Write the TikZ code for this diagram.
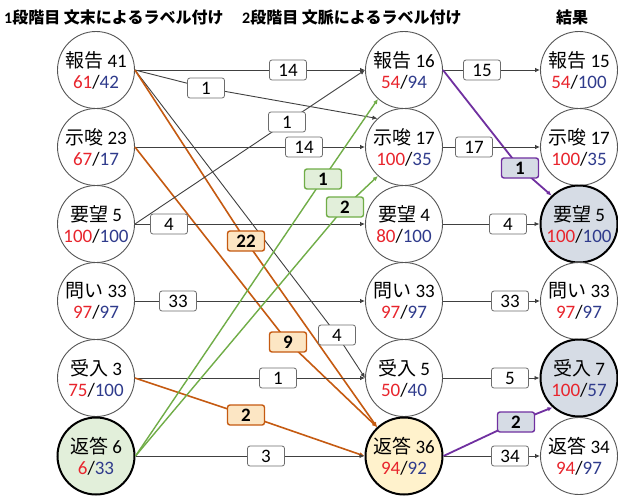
\documentclass[tikz,border=0pt]{standalone}
\usepackage{fontspec}
\setmainfont{Carlito}
\newfontfamily\jp{Noto Sans CJK JP}
\usetikzlibrary{arrows.meta}
\definecolor{rd}{HTML}{E8242C}
\definecolor{bl}{HTML}{2F3B8C}
\definecolor{org}{HTML}{C55A11}
\definecolor{orgfill}{HTML}{FCE6C4}
\definecolor{grn}{HTML}{70AD47}
\definecolor{grnfill}{HTML}{E2EFDA}
\definecolor{pur}{HTML}{7030A0}
\definecolor{purfill}{HTML}{D6DCE5}
\definecolor{yelfill}{HTML}{FFF2CC}
\definecolor{circedge}{HTML}{555555}
\definecolor{ln}{HTML}{404040}
\begin{document}
\begin{tikzpicture}[x=1pt,y=-1pt,
  catnode/.style={circle,draw=circedge,line width=0.9pt,fill=white,minimum size=77pt,inner sep=0pt,align=center,font=\fontsize{19}{21}\selectfont},
  hl/.style={draw=black,line width=2pt},
  lbl/.style={draw=gray!85!black,rounded corners=2.5pt,fill=white,minimum width=37pt,minimum height=20pt,inner sep=0pt,font=\fontsize{19}{19}\selectfont,line width=0.8pt},
  olbl/.style={lbl,draw=org,fill=orgfill,line width=1.4pt,font=\bfseries\fontsize{19}{19}\selectfont},
  glbl/.style={lbl,draw=grn,fill=grnfill,line width=1.4pt,font=\bfseries\fontsize{19}{19}\selectfont},
  plbl/.style={lbl,draw=pur,fill=purfill,line width=1.4pt,font=\bfseries\fontsize{19}{19}\selectfont},
  conn/.style={draw=ln,line width=0.9pt,-{Latex[length=5pt,width=4.5pt]}},
  oconn/.style={conn,draw=org,line width=1.6pt},
  gconn/.style={conn,draw=grn,line width=1.4pt},
  pconn/.style={conn,draw=pur,line width=1.8pt},
  head/.style={font=\bfseries\fontsize{16}{16}\selectfont,inner sep=0pt}
]
\useasboundingbox (0,0) rectangle (618,496);
\fill[white] (0,0) rectangle (618,496);
% headers
\node[head,anchor=west] (h1) at (4,17) {1{\jp 段階目 文末によるラベル付け}};
\node[head,anchor=west] (h2) at (242,17) {2{\jp 段階目 文脈によるラベル付け}};
\node[head] (h3) at (572,17) {{\jp 結果}};
% column 1
\node[catnode] (a1) at (96,70)  {{\jp 報告} 41\\{\color{rd}61}/{\color{bl}42}};
\node[catnode] (a2) at (96,147) {{\jp 示唆} 23\\{\color{rd}67}/{\color{bl}17}};
\node[catnode] (a3) at (96,224) {{\jp 要望} 5\\{\color{rd}100}/{\color{bl}100}};
\node[catnode] (a4) at (96,301) {{\jp 問い} 33\\{\color{rd}97}/{\color{bl}97}};
\node[catnode] (a5) at (96,378) {{\jp 受入} 3\\{\color{rd}75}/{\color{bl}100}};
\node[catnode,hl,fill=grnfill] (a6) at (96,456) {{\jp 返答} 6\\{\color{rd}6}/{\color{bl}33}};
% column 2
\node[catnode] (b1) at (404,70)  {{\jp 報告} 16\\{\color{rd}54}/{\color{bl}94}};
\node[catnode] (b2) at (404,147) {{\jp 示唆} 17\\{\color{rd}100}/{\color{bl}35}};
\node[catnode] (b3) at (404,224) {{\jp 要望} 4\\{\color{rd}80}/{\color{bl}100}};
\node[catnode] (b4) at (404,301) {{\jp 問い} 33\\{\color{rd}97}/{\color{bl}97}};
\node[catnode] (b5) at (404,378) {{\jp 受入} 5\\{\color{rd}50}/{\color{bl}40}};
\node[catnode,hl,fill=yelfill] (b6) at (404,456) {{\jp 返答} 36\\{\color{rd}94}/{\color{bl}92}};
% column 3
\node[catnode] (c1) at (579,70)  {{\jp 報告} 15\\{\color{rd}54}/{\color{bl}100}};
\node[catnode] (c2) at (579,147) {{\jp 示唆} 17\\{\color{rd}100}/{\color{bl}35}};
\node[catnode,hl,fill=purfill] (c3) at (579,224) {{\jp 要望} 5\\{\color{rd}100}/{\color{bl}100}};
\node[catnode] (c4) at (579,301) {{\jp 問い} 33\\{\color{rd}97}/{\color{bl}97}};
\node[catnode,hl,fill=purfill] (c5) at (579,378) {{\jp 受入} 7\\{\color{rd}100}/{\color{bl}57}};
\node[catnode] (c6) at (579,456) {{\jp 返答} 34\\{\color{rd}94}/{\color{bl}97}};
% label coordinates
\coordinate (k1) at (288,70);
\coordinate (k2) at (206,88);
\coordinate (k3) at (246,241);
\coordinate (k4) at (337,335);
\coordinate (k5) at (304,147);
\coordinate (k6) at (288,342);
\coordinate (k7) at (287,122);
\coordinate (k8) at (169,224);
\coordinate (k9) at (178,301);
\coordinate (k10) at (278,378);
\coordinate (k11) at (246,415);
\coordinate (k12) at (323,179);
\coordinate (k13) at (345,207);
\coordinate (k14) at (266,456);
\coordinate (m1) at (482,70);
\coordinate (m2) at (520,168);
\coordinate (m3) at (474,147);
\coordinate (m4) at (508,224);
\coordinate (m5) at (510,301);
\coordinate (m6) at (510,378);
\coordinate (m7) at (516,422);
\coordinate (m8) at (510,456);
% connectors stage 1
\draw[conn] (a1.east) -- (b1.west);
\draw[conn] (a1.east) -- (k2) -- (b2.133);
\draw[conn] (a1.east) -- (k4) -- (b5.west);
\draw[oconn] (a1.east) -- (k3) -- (b6.133);
\draw[conn] (a2.east) -- (b2.west);
\draw[oconn] (a2.east) -- (k6) -- (b6.133);
\draw[conn] (a3.east) -- (k7) -- (b1.west);
\draw[conn] (a3.east) -- (b3.west);
\draw[conn] (a4.east) -- (b4.west);
\draw[conn] (a5.east) -- (b5.west);
\draw[oconn] (a5.east) -- (k11) -- (b6.west);
\draw[gconn] (a6.east) -- (k12) -- (b1.228);
\draw[gconn] (a6.east) -- (k13) -- (b2.228);
\draw[conn] (a6.east) -- (b6.west);
% connectors stage 2
\draw[conn] (b1.east) -- (c1.west);
\draw[pconn] (b1.east) -- (m2) -- (c3.134);
\draw[conn] (b2.east) -- (c2.west);
\draw[conn] (b3.east) -- (c3.west);
\draw[conn] (b4.east) -- (c4.west);
\draw[conn] (b5.east) -- (c5.west);
\draw[pconn] (b6.east) -- (m7) -- (c5.228);
\draw[conn] (b6.east) -- (c6.west);
% labels
\node[lbl] (l1) at (k1) {14};
\node[lbl] (l2) at (k2) {1};
\node[olbl] (l3) at (k3) {22};
\node[lbl] (l4) at (k4) {4};
\node[lbl] (l5) at (k5) {14};
\node[olbl] (l6) at (k6) {9};
\node[lbl] (l7) at (k7) {1};
\node[lbl] (l8) at (k8) {4};
\node[lbl] (l9) at (k9) {33};
\node[lbl] (l10) at (k10) {1};
\node[olbl] (l11) at (k11) {2};
\node[glbl] (l12) at (k12) {1};
\node[glbl] (l13) at (k13) {2};
\node[lbl] (l14) at (k14) {3};
\node[lbl] (n1) at (m1) {15};
\node[plbl] (n2) at (m2) {1};
\node[lbl] (n3) at (m3) {17};
\node[lbl] (n4) at (m4) {4};
\node[lbl] (n5) at (m5) {33};
\node[lbl] (n6) at (m6) {5};
\node[plbl] (n7) at (m7) {2};
\node[lbl] (n8) at (m8) {34};
\end{tikzpicture}
\end{document}
